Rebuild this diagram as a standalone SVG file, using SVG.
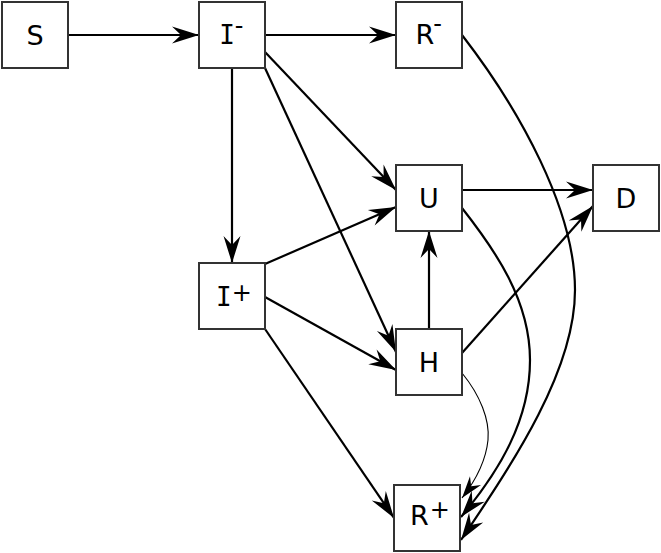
<svg xmlns="http://www.w3.org/2000/svg" width="661" height="553" viewBox="0 0 661 553">
<style>
.box{fill:#fff;stroke:#333;stroke-width:2}
.lbl{font-family:"DejaVu Sans","Verdana",sans-serif;font-size:27px;fill:#000}
.c{text-anchor:middle}
.mono{font-family:"DejaVu Sans Mono",monospace;font-size:26px}
.sup{font-size:24px}
.e{fill:none;stroke:#000;stroke-width:2.2;marker-end:url(#ah)}
.t{fill:none;stroke:#000;stroke-width:1.1;marker-end:url(#ahs)}
</style>
<defs>
<marker id="ah" markerUnits="userSpaceOnUse" markerWidth="32" markerHeight="22" viewBox="-30 -11 32 22" refX="0" refY="0" orient="auto">
<path d="M0,0 L-27,-8.5 L-18,0 L-27,8.5 Z" fill="#000"/>
</marker>
<marker id="ahs" markerUnits="userSpaceOnUse" markerWidth="26" markerHeight="18" viewBox="-24 -9 26 18" refX="0" refY="0" orient="auto">
<path d="M0,0 L-22,-7 L-15,0 L-22,7 Z" fill="#000"/>
</marker>
</defs>
<g id="connectors">
<path class="e" d="M68,35 L199,35"/>
<path class="e" d="M265,35 L396,35"/>
<path class="e" d="M232,68 L232,263"/>
<path class="e" d="M265,52 L396,190"/>
<path class="e" d="M265,68 L396,352"/>
<path class="e" d="M265,264 L396,207"/>
<path class="e" d="M265,297 L396,370"/>
<path class="e" d="M265,329 L394,518"/>
<path class="e" d="M462,190 L593,190"/>
<path class="e" d="M429,329 L429,231"/>
<path class="e" d="M462,353 L593,206"/>
<path class="e" d="M462,208 C495,250 530,300 530,360 S500,470 461,517"/>
<path class="e" d="M462,35 C520,110 575,210 575,290 S515,460 461,540"/>
<path class="t" d="M462,373 C480,395 490,420 488,440 S476,480 462,498"/>
</g>
<g id="node-S"><rect class="box" x="2" y="2" width="66" height="66"/><text class="lbl c" x="35" y="44.5">S</text></g>
<g id="node-Iminus"><rect class="box" x="199" y="2" width="66" height="66"/><text class="lbl" x="219.2" y="44"><tspan class="mono">I</tspan><tspan class="sup" dy="-10.5">-</tspan></text></g>
<g id="node-Rminus"><rect class="box" x="396" y="2" width="66" height="66"/><text class="lbl" x="415.5" y="43.5">R<tspan class="sup" dy="-12" dx="-1">-</tspan></text></g>
<g id="node-U"><rect class="box" x="396" y="165" width="66" height="66"/><text class="lbl c" x="429" y="207.5">U</text></g>
<g id="node-D"><rect class="box" x="593" y="165" width="66" height="66"/><text class="lbl c" x="626" y="207.5">D</text></g>
<g id="node-Iplus"><rect class="box" x="199" y="263" width="66" height="66"/><text class="lbl" x="216" y="306"><tspan class="mono">I</tspan><tspan class="sup" dy="-5.5">+</tspan></text></g>
<g id="node-H"><rect class="box" x="396" y="329" width="66" height="66"/><text class="lbl c" x="429" y="371.5">H</text></g>
<g id="node-Rplus"><rect class="box" x="394" y="485" width="66" height="66"/><text class="lbl" x="410" y="525">R<tspan class="sup" dy="-7.3" dx="1">+</tspan></text></g>
</svg>
